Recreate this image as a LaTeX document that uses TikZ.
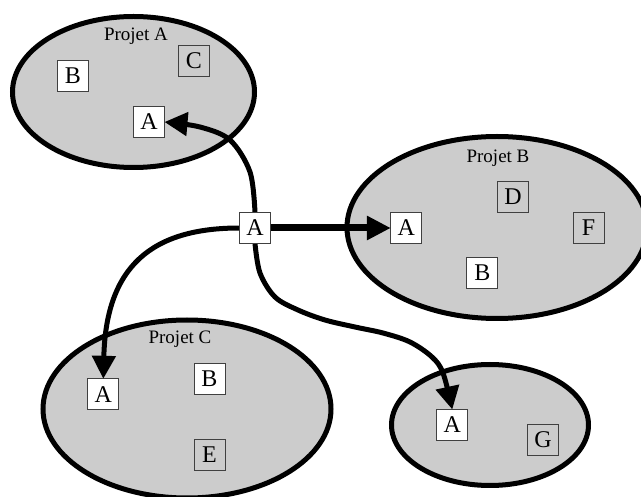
\documentclass[tikz,border=0pt]{standalone}
\usepackage{fontspec}
\setmainfont{Liberation Serif}
\usetikzlibrary{arrows.meta,shapes.geometric}
\definecolor{projgray}{HTML}{CCCCCC}
\tikzset{
  projet/.style={ellipse,draw=black,fill=projgray,line width=5pt,inner sep=0pt,outer sep=0pt},
  itembox/.style={draw=black!75,line width=0.8pt,minimum size=31pt,inner sep=0pt,outer sep=0pt,text=black,text height=15.8pt,text depth=0pt,font=\fontsize{24}{24}\selectfont},
  whitebox/.style={itembox,fill=white},
  graybox/.style={itembox,fill=projgray},
  projlabel/.style={inner sep=0pt,anchor=base,font=\fontsize{19}{19}\selectfont},
  link/.style={draw=black,line width=5pt,-{Triangle[length=23pt,width=23pt]}},
  straightlink/.style={draw=black,line width=7pt,-{Triangle[length=24pt,width=23pt]}}
}
\begin{document}
\begin{tikzpicture}[x=1pt,y=-1pt]
\useasboundingbox (0,0) rectangle (641,497);
\fill[white] (0,0) rectangle (641,497);
% ellipses
\node[projet,minimum width=242pt,minimum height=151pt] (pa) at (133.5,92) {};
\node[projet,minimum width=300pt,minimum height=182pt] (pb) at (497,227.5) {};
\node[projet,minimum width=288pt,minimum height=178pt] (pc) at (187,409) {};
\node[projet,minimum width=197pt,minimum height=121pt] (pd) at (490,425) {};
% labels
\node[projlabel] (la) at (136,41) {Projet A};
\node[projlabel] (lb) at (498,162.7) {Projet B};
\node[projlabel] (lc) at (180,344) {Projet C};
% connectors (drawn before the boxes, ends named)
\node[whitebox] (a0) at (255,228) {A};
\node[whitebox] (a1) at (149,122) {A};
\node[whitebox] (a2) at (406.3,228) {A};
\node[whitebox] (a3) at (103.3,394.3) {A};
\node[whitebox] (a4) at (452.3,425) {A};
\draw[link] plot[smooth,tension=0.55] coordinates {(a0.north) (250,172) (230,140) (200,127) (a1.east)};
\draw[straightlink] (a0.east) -- (a2.west);
\draw[link] (a0.west) .. controls (152,228) and (106,266) .. (a3.north);
\draw[link] plot[smooth,tension=0.55] coordinates {(a0.south) (260,273) (275,297) (298,310) (325,320) (355,327) (383,333) (410,342) (432,357) (443,373) (a4.north)};
% boxes
\node[whitebox] at (a0) {A};
\node[whitebox] (b1) at (73,76) {B};
\node[graybox] (c1) at (194,61) {C};
\node[graybox] (d2) at (513,197) {D};
\node[graybox] (f2) at (588.5,228) {F};
\node[whitebox] (b2) at (482.3,273) {B};
\node[whitebox] (b3) at (209.5,379) {B};
\node[graybox] (e3) at (209.5,455) {E};
\node[graybox] (g4) at (543,440) {G};
\end{tikzpicture}
\end{document}
